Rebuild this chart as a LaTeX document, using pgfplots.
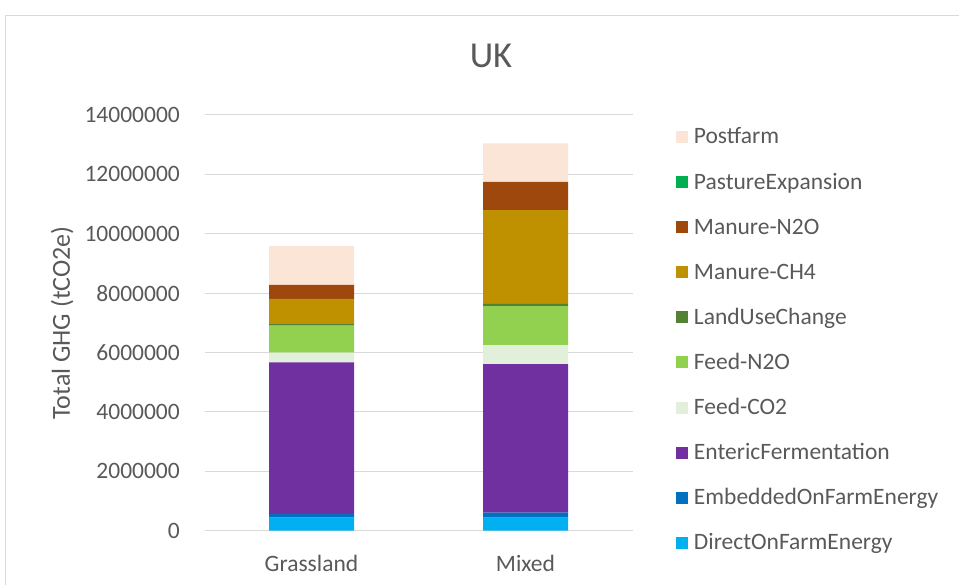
\documentclass[border=0pt]{standalone}
\usepackage{fontspec}
\setmainfont{Carlito}
\usepackage{pgfplots}
\pgfplotsset{compat=1.18}
\definecolor{txt}{HTML}{595959}
\definecolor{gridc}{HTML}{D9D9D9}
\definecolor{cDirect}{HTML}{00B0F0}
\definecolor{cEmbed}{HTML}{0070C0}
\definecolor{cEnteric}{HTML}{7030A0}
\definecolor{cFeedCO}{HTML}{E2EFDA}
\definecolor{cFeedN}{HTML}{92D050}
\definecolor{cLUC}{HTML}{548235}
\definecolor{cCH}{HTML}{BF9000}
\definecolor{cMN}{HTML}{9E480E}
\definecolor{cPast}{HTML}{00B050}
\definecolor{cPost}{HTML}{FBE5D6}
\pgfplotsset{sq/.style={fill=#1, draw=none,
  legend image code/.code={\fill[#1] (0pt,-5pt) rectangle (12pt,7pt);}}}
\begin{document}
\begin{tikzpicture}[x=1pt,y=1pt]
\useasboundingbox (0,0) rectangle (959,585);
\draw[gridc, line width=1pt] (5,-10) -- (5,569) -- (990,569);
\begin{axis}[
  at={(204.5pt,54.3pt)}, anchor=south west,
  scale only axis, width=428pt, height=415.7pt,
  xmin=-0.5, xmax=1.5, ymin=0, ymax=14000000,
  ybar stacked, bar width=85pt,
  xtick={0,1}, xticklabels={Grassland,Mixed},
  ytick={0,2000000,4000000,6000000,8000000,10000000,12000000,14000000},
  yticklabels={0,2000000,4000000,6000000,8000000,10000000,12000000,14000000},
  scaled y ticks=false,
  ymajorgrids, major grid style={gridc, line width=1pt},
  axis line style={draw=none}, tick style={draw=none},
  tick label style={font=\fontsize{23.5}{28}\selectfont, text=txt},
  xticklabel style={anchor=base, inner sep=0pt, yshift=-41pt},
  yticklabel style={anchor=east, inner sep=0pt, xshift=-24.5pt},
  ylabel={Total GHG (tCO2e)},
  ylabel style={at={(axis description cs:-0.3143,0.5)}, anchor=base, rotate=0,
    font=\fontsize{26}{30}\selectfont, text=txt, inner sep=0pt},
  title={UK},
  title style={at={(axis description cs:0.6694,1.101)}, anchor=base,
    font=\fontsize{36.5}{40}\selectfont, text=txt, inner sep=0pt},
  reverse legend,
  legend cell align=left,
  legend style={draw=none, fill=none, at={(axis description cs:1.094,0.9765)},
    anchor=north west, font=\fontsize{23.5}{28}\selectfont, text=txt,
    nodes={inner sep=0pt, text height=17pt, text depth=5pt},
    row sep=23.1pt, column sep=6pt},
]
\addplot+[sq=cDirect] coordinates {(0,440000) (1,440000)};
\addlegendentry{DirectOnFarmEnergy}
\addplot+[sq=cEmbed] coordinates {(0,120000) (1,170000)};
\addlegendentry{EmbeddedOnFarmEnergy}
\addplot+[sq=cEnteric] coordinates {(0,5110000) (1,5000000)};
\addlegendentry{EntericFermentation}
\addplot+[sq=cFeedCO] coordinates {(0,330000) (1,640000)};
\addlegendentry{Feed-CO2}
\addplot+[sq=cFeedN] coordinates {(0,910000) (1,1310000)};
\addlegendentry{Feed-N2O}
\addplot+[sq=cLUC] coordinates {(0,50000) (1,80000)};
\addlegendentry{LandUseChange}
\addplot+[sq=cCH] coordinates {(0,850000) (1,3160000)};
\addlegendentry{Manure-CH4}
\addplot+[sq=cMN] coordinates {(0,470000) (1,950000)};
\addlegendentry{Manure-N2O}
\addplot+[sq=cPast] coordinates {(0,0) (1,0)};
\addlegendentry{PastureExpansion}
\addplot+[sq=cPost] coordinates {(0,1300000) (1,1290000)};
\addlegendentry{Postfarm}
\end{axis}
\end{tikzpicture}
\end{document}
